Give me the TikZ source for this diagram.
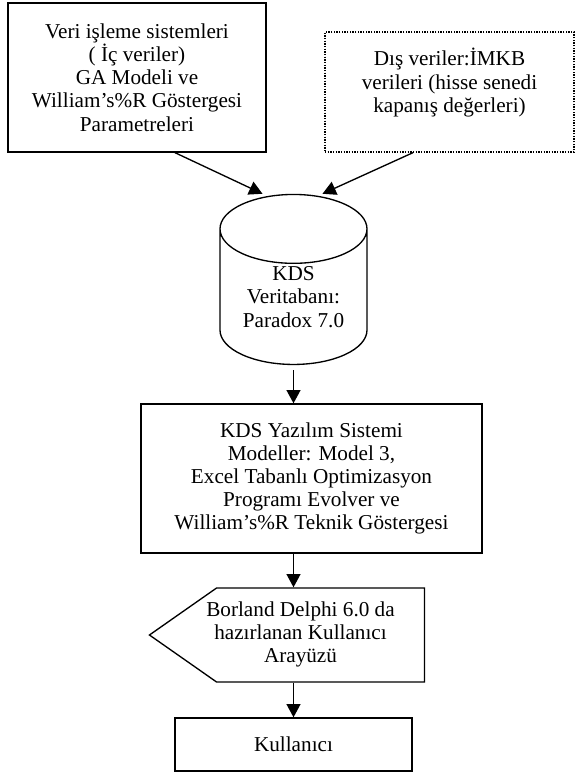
\documentclass[tikz,border=0pt]{standalone}
\usepackage{fontspec}
\setmainfont{Liberation Serif}
\usetikzlibrary{shapes.geometric,shapes.symbols,arrows.meta}

\begin{document}
\begin{tikzpicture}[x=0.75pt,y=-0.75pt,
    font=\fontsize{15.9}{17.4}\selectfont,
    box/.style={draw,line width=1pt,align=center,inner sep=2pt},
    ext/.style={box,dash pattern=on 1pt off 1pt},
    db/.style={draw,line width=1pt,cylinder,shape border rotate=90,aspect=0.68,
               align=center,inner sep=0pt},
    ui/.style={draw,line width=1pt,signal,signal to=west,signal pointer angle=70,
               inner sep=0pt},
    arr/.style={-{Triangle[length=10pt,width=10.5pt]},line width=1pt}]
    \useasboundingbox (0,0) rectangle (576,776);
    \node[box,minimum width=193.5pt,minimum height=111.75pt] (src) at (137,77.5)
        {Veri işleme sistemleri\\( İç veriler)\\GA Modeli ve\\William’s\%R Göstergesi\\Parametreleri};
    \node[ext,minimum width=186.75pt,minimum height=90pt] (dis) at (449.5,92)
        {Dış veriler:İMKB\\verileri (hisse senedi\\kapanış değerleri)\\~};
    \node[db,minimum width=110.25pt,minimum height=127.5pt] (db) at (293.5,297)
        {KDS\\Veritabanı:\\Paradox 7.0};
    \draw[arr] ([xshift=28.5pt]src.south) -- ([xshift=-23.25pt]db.north);
    \draw[arr] ([xshift=-27.4pt]dis.south) -- ([xshift=21.75pt]db.north);

    \node[box,minimum width=255.75pt,minimum height=111.75pt] (kds) at (311.5,478.5)
        {KDS Yazılım Sistemi\\Modeller: Model 3,\\Excel Tabanlı Optimizasyon\\Programı Evolver ve\\William’s\%R Teknik Göstergesi};
    \draw[arr] ([yshift=-4pt]db.south) -- (db.south |- kds.north);

    % text sits a little left of the box middle
    \node[ui,minimum width=206.25pt,minimum height=70.5pt] (ui) at (320.5,635)
        {\kern-30pt\begin{tabular}{@{}c@{}}Borland Delphi 6.0 da\\hazırlanan Kullanıcı\\Arayüzü\end{tabular}};
    \node[box,minimum width=177.75pt,minimum height=39.75pt] (usr) at (293.5,744.5) {Kullanıcı};
    \draw[arr] (kds.south -| db.south) -- (ui.north -| db.south);
    \draw[arr] (usr.north |- ui.south) -- (usr.north);
\end{tikzpicture}
\end{document}
